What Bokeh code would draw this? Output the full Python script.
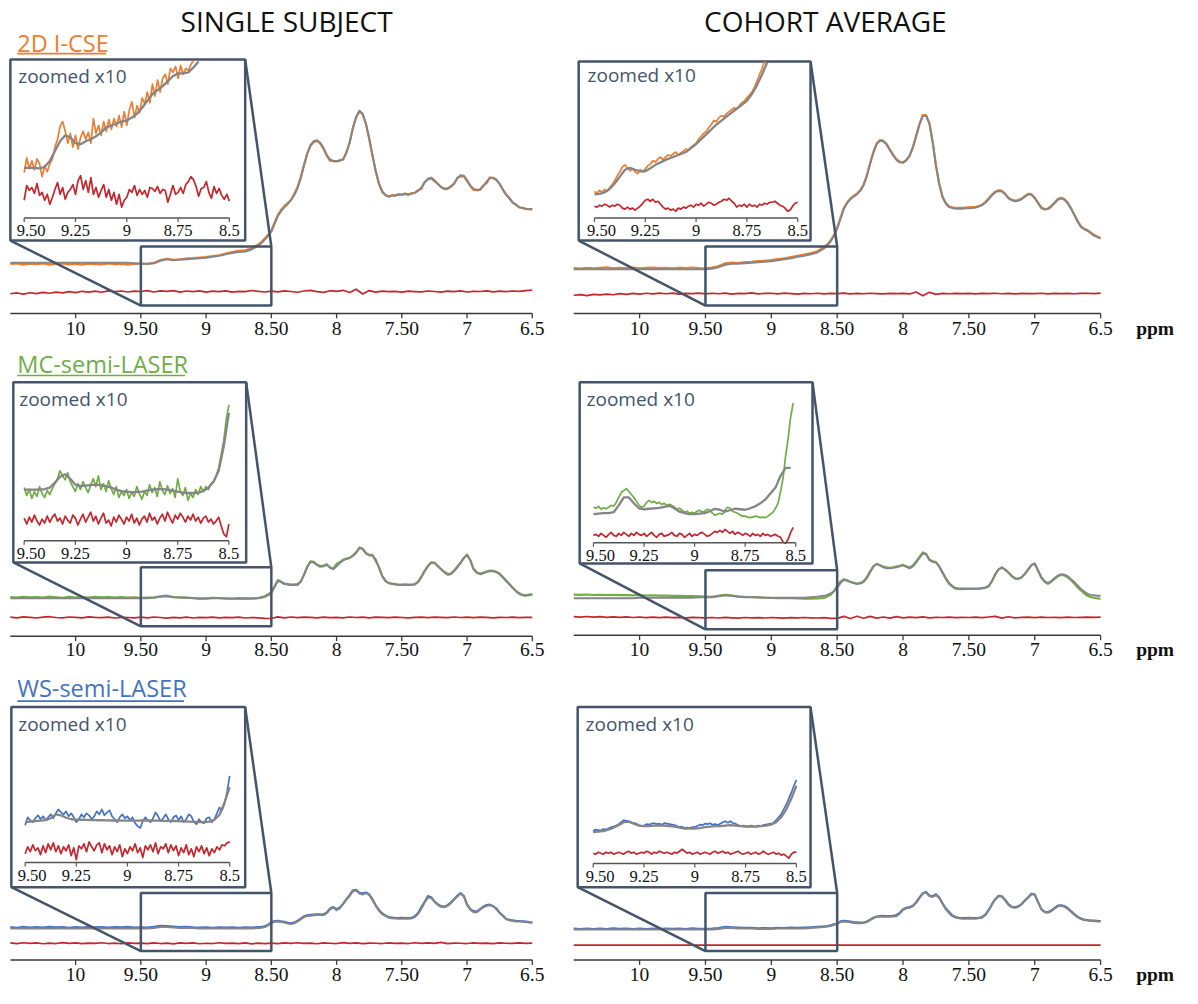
from bokeh.plotting import figure
from bokeh.models import Range1d
from bokeh.embed import file_html
from bokeh.resources import INLINE
from bokeh.core.properties import value

# ============================ DATA ============================
# main spectra: 0.05 ppm steps from 10.5 down to 8.65, then 0.025 ppm steps from 8.6 to 6.5
MAIN_START, MAIN_END = 10.5, 6.5
MAIN_COARSE_STEP, MAIN_SPLIT, MAIN_FINE_STEP = 0.05, 8.6, 0.025
RESID_STEP = 0.05
ZOOM_START, ZOOM_STEP, ZOOM_FIT_STEP = 9.5, 0.0125, 0.025
ZOOM_WINDOW = (9.5, 8.5)

MAIN_TICKS = [10.0, 9.5, 9.0, 8.5, 8.0, 7.5, 7.0, 6.5]
MAIN_TICK_LABELS = ["10", "9.50", "9", "8.50", "8", "7.50", "7", "6.5"]
ZOOM_TICKS = [9.5, 9.25, 9.0, 8.75, 8.5]
ZOOM_TICK_LABELS = ["9.50", "9.25", "9", "8.75", "8.5"]

COLUMN_TITLES = ["SINGLE SUBJECT", "COHORT AVERAGE"]
METHODS = ["2D I-CSE", "MC-semi-LASER", "WS-semi-LASER"]
ZOOM_TEXT = "zoomed x10"
UNIT_TEXT = "ppm"

# ---- Panel A : 2D I-CSE, single subject (a.u.) ----
A_MAIN_SIGNAL = [
    50.2, 50.8, 49.6, 50.5, 49.9, 50.7, 49.4, 50.3, 50.9, 49.8,
    50.4, 49.5, 50.6, 50.1, 49.7, 50.8, 49.9, 50.3, 49.6, 50.2,
    50.8, 50.2, 51.4, 54.3, 55.6, 54.6, 55.1, 55.9, 56.2, 56.9,
    57.4, 58.3, 59.2, 60.9, 62.4, 63.6, 64.1, 66.2,
    70.1, 72.8, 76.3, 79.9, 84.5, 92.6, 100.2, 105.4, 109.1, 112.3,
    115.3, 121.4, 128.2, 138.5, 150.9, 162.6, 170.4, 174.2, 175.3, 172.6,
    167.2, 160.1, 155.1, 154.6, 154.2, 155.9, 156.1, 163.8, 173.2, 188.9,
    199.2, 205.1, 202.4, 192.3, 177.2, 160.3, 144.1, 131.5, 123.2, 120.6,
    118.4, 120.3, 119.5, 121.4, 120.8, 121.9, 120.3, 122.4, 122.6, 125.3,
    126.4, 133.8, 136.1, 137.2, 134.3, 132.1, 128.6, 126.2, 126.5, 129.4,
    131.4, 137.8, 139.2, 139.3, 134.5, 129.4, 125.3, 125.8, 125.6, 130.2,
    132.4, 138.3, 137.3, 135.4, 131.6, 125.3, 120.5, 117.2, 112.4, 110.8,
    107.6, 107.4, 106.1, 105.8, 105.4]
A_MAIN_FIT = [
    51.5, 51.5, 51.5, 51.5, 51.5, 51.5, 51.5, 51.5, 51.5, 51.5,
    51.5, 51.5, 51.5, 51.5, 51.5, 51.5, 51.5, 51.5, 51.5, 51.0,
    50.5, 50.5, 51.0, 53.5, 55.0, 54.0, 54.5, 55.0, 55.5, 56.0,
    56.5, 57.5, 58.5, 60.0, 61.5, 62.5, 63.0, 65.0,
    69, 71.5, 75, 78.5, 83, 91, 99, 104, 108, 111,
    115, 120, 127, 137, 150, 162, 171, 175, 176, 173.5,
    168, 161, 156.5, 155, 155, 155, 157, 163, 174, 188,
    200, 206, 203, 193, 178, 161, 145, 132, 124, 120,
    119, 119.5, 120, 120.5, 120.5, 121, 121, 121.5, 122.5, 124.5,
    128, 133, 137, 138, 135.5, 131.5, 128.5, 127, 127, 128.5,
    132, 137, 140.5, 140, 135.5, 130, 126.5, 125, 126, 129.5,
    134, 137.5, 138, 136, 131.5, 126, 121, 116.5, 113, 110,
    108, 107, 106.5, 106, 106]
A_MAIN_RESID = [
    -2.0, -1.2, -2.4, -1.0, -1.8, -0.6, -1.5, -0.4, -1.1, 0.2,
    -0.8, 0.5, -0.3, 0.6, -0.5, 0.9, 0.1, 0.8, -0.2, 0.7,
    0.3, 1.1, -0.2, 0.9, 0.4, 1.2, -0.3, 0.8, 0.2, 1.0,
    -0.4, 0.6, 0.1, 0.9, -0.3, 0.5, 0.2, 1.3, 0.4, -0.2,
    0.6, -0.1, 1.0, 0.3, -0.5, 0.8, 1.4, 0.2, -0.6, 1.1,
    0.4, 1.5, -0.8, 2.6, -2.2, 1.2, -0.4, 0.7, 0.1, 0.5,
    -0.3, 0.6, 0.2, -0.1, 0.8, 0.3, -0.4, 0.7, 0.1, 0.9,
    -0.2, 0.5, 0.3, 1.0, -0.1, 0.6, 0.2, 0.8, 0.4, 1.2,
    1.8]
A_ZOOM_SIGNAL = [
    46, 61, 50, 58, 49, 60, 55, 42, 53, 47,
    55, 60, 72, 80, 93, 98, 88, 76, 86, 72,
    84, 70, 82, 88, 80, 87, 76, 101, 86, 94,
    84, 98, 88, 100, 90, 101, 93, 104, 92, 108,
    94, 110, 118, 102, 114, 107, 122, 116, 128, 117,
    136, 124, 140, 128, 142, 146, 136, 152, 148, 154,
    142, 155, 146, 152, 150, 156, 160]
A_ZOOM_FIT = [
    51, 51, 51, 50.5, 52, 58, 68, 78, 84, 82,
    76, 75, 78, 80, 83, 87, 92, 94, 96, 98,
    99, 102, 106, 112, 119, 126, 130, 134, 139, 144,
    147, 147, 148, 153, 159]
A_ZOOM_RESID = [
    -10, 5, 0, 3, -3, 7, -5, -2, -10, -4,
    -14, -7, 1, 8, -4, 3, -9, -2, 1, 6,
    -4, 10, 15, 1, 10, -2, 13, -4, 3, -7,
    0, 6, -7, 1, -10, -2, -14, -4, -17, -10,
    -7, 1, -2, 5, -5, 1, -4, 0, -7, 3,
    2, -1, 4, -3, 1, 0, -12, -4, 5, -4,
    -2, 3, -3, 6, 9, 14, 11, 4, -6, 2,
    3, 9, -2, -8, 4, -3, 2, -5, -9, -4,
    -11]

# ---- Panel B : 2D I-CSE, cohort average ----
B_MAIN_SIGNAL = [
    46.2, 45.7, 46.5, 45.9, 46.3, 46.8, 45.8, 46.4, 46.1, 46.6,
    45.9, 46.3, 46.7, 46.0, 46.4, 45.8, 46.5, 46.2, 46.6, 46.0,
    45.9, 46.6, 48.3, 50.9, 51.6, 51.2, 52.1, 52.4, 53.3, 53.6,
    54.2, 55.3, 56.1, 57.4, 58.6, 59.9, 61.3, 63.2,
    67.4, 70.2, 74.1, 79.6, 87.2, 97.1, 107.1, 112.6, 116.8, 119.4,
    121.9, 125.3, 130.8, 140.2, 152.6, 164.1, 172.9, 176.2, 175.6, 172.3,
    166.5, 161.4, 156.8, 154.1, 153.6, 156.2, 160.4, 169.3, 180.9, 192.6,
    201.6, 201.5, 193.4, 174.6, 150.7, 131.8, 118.8, 112.3, 108.6, 107.8,
    107.2, 107.3, 107.4, 107.6, 107.8, 108.0, 108.1, 109.2, 110.6, 113.2,
    116.9, 120.8, 123.8, 125.3, 124.6, 121.8, 117.7, 115.6, 114.8, 115.2,
    116.7, 119.3, 121.6, 121.2, 117.6, 112.7, 107.8, 106.2, 106.6, 109.3,
    112.8, 116.2, 117.6, 116.2, 112.8, 107.2, 100.6, 94.1, 88.8, 86.2,
    84.7, 82.3, 79.8, 78.2, 76.8]
B_MAIN_FIT = [
    45.0, 45.0, 45.0, 45.0, 45.0, 45.0, 45.0, 45.0, 45.0, 45.0,
    45.0, 45.0, 45.0, 45.0, 45.0, 45.0, 45.0, 45.0, 45.0, 45.0,
    45.0, 45.5, 47.0, 49.5, 50.5, 50.5, 51.0, 51.5, 52.0, 52.5,
    53.0, 54.0, 55.0, 56.0, 57.5, 58.5, 60.0, 62.0,
    66, 69, 73, 78.5, 86, 96, 106, 112, 116, 118.5,
    121, 124.5, 130, 139.5, 152, 163.5, 172, 175.5, 175, 171.5,
    166, 160.5, 156, 153.5, 153, 155.5, 160, 168.5, 180, 192,
    200.5, 201, 193, 174, 150, 131, 118, 111.5, 108, 107,
    106.5, 106.5, 106.5, 106.8, 107, 107.2, 107.5, 108.5, 110, 112.5,
    116, 120, 123, 124.5, 124, 121, 117, 115, 114, 114.5,
    116, 118.5, 121, 120.5, 117, 112, 107, 105.5, 106, 108.5,
    112, 115.5, 117, 115.5, 112, 106.5, 100, 93.5, 88, 85.5,
    84, 81.5, 79, 77.5, 76]
B_MAIN_RESID = [
    -1.5, -0.8, -1.9, -0.6, -1.2, -0.3, -1.0, 0.1, -0.7, 0.3,
    -0.4, 0.5, -0.2, 0.6, 0.0, 0.7, -0.3, 0.4, 0.1, 0.6,
    -0.2, 0.5, 0.0, 0.7, -0.3, 0.4, 0.1, 0.8, -0.2, 0.3,
    0.5, -0.1, 0.6, 0.2, -0.3, 0.4, 0.0, 0.5, -0.2, 0.3,
    0.1, 0.6, -0.2, 0.4, 0.0, 0.5, 0.2, -0.1, 0.4, 0.1,
    0.3, -0.2, 1.8, -2.0, 1.5, -0.6, 0.3, 0.0, 0.4, 0.1,
    0.3, -0.1, 0.4, 0.2, 0.5, 0.0, 0.3, -0.2, 0.4, 0.1,
    0.2, 0.5, -0.1, 0.3, 0.1, 0.4, 0.0, 0.3, 0.5, 0.2,
    0.6]
B_ZOOM_SIGNAL = [
    27, 25, 28, 26, 29, 27, 31, 34, 38, 43,
    47, 52, 54, 51, 48, 50, 47, 45, 49, 47,
    50, 53, 55, 58, 57, 60, 62, 59, 62, 64,
    63, 65, 67, 64, 66, 68, 70, 69, 72, 74,
    76, 80, 83, 86, 88, 92, 95, 99, 98, 102,
    104, 103, 106, 108, 110, 112, 111, 114, 117, 119,
    122, 125, 128, 133, 139, 146, 152, 159]
B_ZOOM_FIT = [
    24, 24.5, 26, 29.5, 35, 42, 49, 51, 49, 47.5,
    47.5, 50.5, 54, 56.5, 59, 61, 63, 65, 67, 71,
    75, 80, 85, 90, 95, 99, 103, 107, 111, 115,
    119, 126, 135, 146, 158]
B_ZOOM_RESID = [
    0, -1, 1, 0, 2, 1, -1, 1, 0, 2,
    1, -2, -3, -1, -3, -2, -4, -2, 0, 3,
    6, 7, 5, 7, 4, 5, 2, -1, -3, -2,
    -4, -3, -5, -2, -3, -1, -2, 0, 1, -1,
    2, 1, 3, 0, 2, 4, 3, 1, 2, 4,
    5, 7, 6, 8, 5, 3, -1, 1, 0, 2,
    -1, 2, 0, 1, -1, 2, 1, 3, 2, 4,
    4, 5, 3, 1, 0, -2, -5, -4, 0, 3,
    4]

# ---- Panel C : MC-semi-LASER, single subject ----
C_MAIN_SIGNAL = [
    39.8, 39.2, 40.1, 39.5, 39.9, 39.3, 40.2, 39.6, 39.1, 40.0,
    39.4, 39.8, 39.2, 40.1, 39.5, 39.9, 39.3, 39.7, 39.2, 39.6,
    39.0, 39.4, 39.3, 40.6, 41.2, 39.8, 39.6, 39.2, 38.9, 38.4,
    38.6, 39.1, 38.8, 38.5, 38.3, 38.7, 38.4, 38.6,
    38.9, 39.8, 40.7, 42.6, 45.2, 50.8, 57.1, 55.4, 53.6, 53.1,
    52.4, 52.8, 52.9, 55.6, 62.6, 70.8, 76.2, 75.6, 72.5, 71.3,
    71.8, 73.1, 69.4, 68.8, 73.6, 75.2, 77.8, 78.9, 79.4, 82.3,
    85.3, 90.2, 89.1, 84.6, 82.6, 82.8, 76.4, 70.2, 61.2, 56.4,
    53.8, 53.6, 52.9, 52.6, 52.4, 52.7, 52.6, 52.4, 53.1, 55.6,
    60.8, 66.4, 71.6, 75.2, 74.8, 71.6, 68.4, 65.5, 63.5, 63.6,
    66.7, 70.6, 74.6, 79.8, 82.8, 77.4, 68.5, 65.1, 63.6, 64.5,
    65.8, 66.7, 66.4, 65.4, 63.5, 60.2, 56.6, 53.1, 49.4, 46.2,
    43.8, 42.1, 41.7, 42.3, 42.9]
C_MAIN_FIT = [
    38.5, 38.5, 38.5, 38.5, 38.5, 38.5, 38.5, 38.5, 38.5, 38.5,
    38.5, 38.5, 38.5, 38.5, 38.5, 38.5, 38.5, 38.5, 38.5, 38.5,
    38.5, 38.5, 39.0, 40.0, 40.5, 39.5, 39.0, 39.0, 38.5, 38.0,
    38.0, 38.5, 38.5, 38.0, 38.0, 38.0, 38.0, 38.0,
    38.5, 39, 40, 41.5, 44, 50, 56, 55, 53, 52.5,
    52, 52, 52, 55, 62, 70, 75.5, 75, 72.5, 70.5,
    71, 72.5, 70, 68, 71, 74.5, 77, 78.5, 79.5, 81.5,
    84.5, 89.5, 88.5, 84, 82, 82, 78, 69.5, 61, 56,
    54, 53, 52.5, 52, 52, 52, 52, 52, 52.5, 55,
    60, 66, 71, 74.5, 74.5, 71, 68, 65, 62.5, 63,
    66, 70, 74.5, 79, 83, 77, 68, 64.5, 63, 64,
    65.5, 66, 66, 65, 63, 59.5, 56, 52.5, 49, 45.5,
    43, 41.5, 41, 41.5, 42]
C_MAIN_RESID = [
    0.4, -0.3, 0.6, 0.1, -0.5, 0.3, 0.8, 0.0, -0.4, 0.5,
    0.2, -0.3, 0.6, 0.1, -0.2, 0.4, -0.5, 0.2, 0.0, -0.3,
    0.3, -0.4, 0.5, 0.0, -0.6, 0.2, -0.3, 0.4, -0.5, 0.1,
    -0.2, 0.3, -0.4, 0.2, -0.1, 0.4, -0.5, 0.0, -0.3, -0.9,
    -1.0, 0.6, -0.4, 0.5, -0.2, 0.3, 0.1, -0.3, 0.4, -0.1,
    0.2, -0.4, 0.5, 0.0, 0.3, -0.3, 0.4, 0.1, -0.2, 0.3,
    0.0, -0.3, 0.2, 0.4, -0.1, 0.3, 0.1, -0.2, 0.5, 0.0,
    0.3, -0.2, 0.4, 0.1, -0.3, 0.2, 0.0, 0.3, -0.1, 0.2,
    0.1]
C_ZOOM_SIGNAL = [
    54, 46, 52, 43, 50, 45, 55, 48, 44, 51,
    47, 53, 58, 63, 71, 66, 62, 69, 60, 55,
    50, 58, 52, 60, 54, 49, 57, 63, 55, 66,
    52, 58, 50, 61, 53, 47, 55, 44, 50, 46,
    52, 43, 49, 45, 55, 48, 42, 50, 46, 57,
    49, 54, 45, 60, 51, 47, 56, 48, 53, 44,
    63, 50, 46, 54, 41, 48, 44, 52, 47, 55,
    50, 55, 52, 58, 60, 66, 74, 88, 102, 124,
    138]
C_ZOOM_FIT = [
    52, 52, 52, 52, 52.5, 54, 59, 65, 67.5, 63,
    57, 55.5, 56, 56.5, 57, 56.5, 55.5, 54, 52, 50.5,
    50, 49.5, 49.5, 50, 51, 52, 52.5, 52.5, 52, 51,
    50, 49, 48.5, 48.5, 49, 50.5, 54, 60, 71, 96,
    130]
C_ZOOM_RESID = [
    2, -4, 3, -2, 5, -1, -5, 1, -3, 4,
    -2, 3, 6, -1, 2, -4, 4, 0, -3, 5,
    2, -5, 1, 6, -2, 3, 8, -1, 4, -4,
    2, 7, -3, 0, -6, 3, -2, 5, 1, -4,
    3, -1, 6, -3, 2, -5, 1, 4, -2, 7,
    0, 3, -4, 2, 6, -1, 8, 2, -3, 5,
    1, 7, 3, -2, 4, 0, 6, -1, 3, -3,
    2, 4, -2, 1, -4, -1, 3, -6, -14, -17,
    -4]

# ---- Panel D : MC-semi-LASER, cohort average ----
D_MAIN_SIGNAL = [
    41.3, 41.0, 41.4, 40.9, 41.2, 40.8, 41.1, 40.7, 40.9, 40.5,
    40.8, 40.4, 40.6, 40.2, 40.4, 40.0, 40.1, 39.8, 39.9, 39.6,
    39.4, 39.1, 40.2, 41.0, 40.2, 39.5, 39.0, 38.8, 38.5, 38.1,
    37.8, 37.6, 37.9, 37.7, 37.4, 37.2, 37.1, 37.3,
    37.8, 39.2, 41.0, 44.6, 50.5, 54.6, 57.0, 55.9, 54.4, 53.3,
    52.6, 53.1, 54.8, 59.0, 65.0, 70.2, 72.4, 71.1, 69.8, 68.9,
    68.6, 69.0, 69.8, 70.6, 71.5, 70.2, 68.8, 71.0, 75.0, 79.6,
    84.2, 82.8, 77.0, 75.1, 74.3, 69.6, 63.2, 57.3, 52.0, 49.2,
    47.2, 46.9, 46.8, 46.9, 46.9, 47.0, 47.0, 47.2, 47.6, 48.3,
    49.6, 54.8, 61.8, 66.7, 68.6, 66.4, 63.4, 60.0, 57.5, 57.2,
    58.6, 62.2, 66.5, 71.2, 72.6, 65.5, 58.4, 54.3, 52.2, 54.3,
    57.1, 59.8, 61.2, 60.6, 58.8, 55.9, 52.6, 48.8, 45.4, 42.6,
    40.0, 38.9, 38.0, 37.4, 37.0]
D_MAIN_FIT = [
    37.5, 37.5, 37.5, 37.5, 37.5, 37.5, 37.5, 37.5, 37.5, 37.5,
    38.0, 38.0, 38.0, 38.0, 38.0, 38.0, 38.0, 38.0, 38.0, 38.5,
    38.5, 38.5, 39.5, 40.5, 40.0, 39.0, 38.5, 38.5, 38.5, 38.0,
    38.0, 38.0, 38.0, 38.0, 38.0, 38.0, 38.5, 39.0,
    40, 41, 42.5, 44.5, 48, 53, 56, 55.5, 54, 53,
    52, 52.5, 54, 58, 64, 69.5, 72.5, 71, 69, 68,
    68, 68.5, 69, 70, 71, 69.5, 68, 70, 74, 78.5,
    83, 82, 76.5, 74.5, 74, 70, 64, 58, 53, 50,
    48, 47.5, 47.5, 47.5, 47.5, 47.5, 47.5, 47.5, 48, 48.5,
    50, 55, 62, 67, 69, 67, 64, 60.5, 58, 57.5,
    59, 62.5, 67, 71.5, 73, 66, 59, 55, 53, 55,
    58, 60.5, 62, 61.5, 60, 57, 54, 50.5, 47, 44.5,
    42, 41, 40.5, 40.2, 40]
D_MAIN_RESID = [
    0.8, 0.3, 1.0, 0.4, 0.9, 0.2, 0.7, 0.1, 0.6, 0.0,
    0.5, -0.1, 0.4, -0.2, 0.3, -0.1, 0.2, -0.3, 0.1, -0.2,
    -0.4, 0.0, -0.5, 0.1, -0.3, -0.6, 0.0, -0.4, -0.1, -0.5,
    0.0, -0.3, -0.6, -0.1, -0.4, 0.0, -0.3, -0.5, -0.2, -0.8,
    -0.9, 1.2, -1.0, 1.3, -0.8, 1.1, -0.6, 0.5, -0.7, 0.9,
    -0.3, 0.4, -0.2, 0.6, -0.4, 0.2, 0.0, 0.3, -0.1, 0.2,
    0.0, 0.3, -0.2, 0.5, 1.2, -0.6, 0.8, -0.3, 0.2, 0.4,
    -0.2, 0.3, 0.0, 0.2, -0.1, 0.3, 0.0, 0.2, 0.4, 0.1,
    0.3]
D_ZOOM_SIGNAL = [
    36, 35, 37, 34, 35.5, 34.5, 36, 38, 37, 41,
    46, 51, 53, 55, 52, 49, 46, 42, 38, 36,
    37, 41, 43, 41, 42, 40, 41, 39, 40, 38,
    39, 38, 36, 34, 35, 33, 31, 32, 30, 31,
    30, 32, 33, 31, 32, 34, 33, 30, 28, 29,
    30, 29, 33, 36, 35, 32, 31, 30, 28, 27,
    27, 26, 25.5, 26, 27, 26.5, 25.5, 26, 25.5, 27,
    29, 31, 35, 40, 52, 66, 88, 106, 128, 142]
D_ZOOM_FIT = [
    29, 29.5, 30, 30, 31, 38, 46, 46, 40, 35,
    34, 34.5, 35, 35.5, 36.5, 37.5, 35, 31.5, 30, 29,
    29, 29.5, 30, 32, 34.5, 33.5, 31.5, 33, 34.5, 34,
    33.5, 35, 37, 40, 44, 50, 56, 68, 76, 76]
D_ZOOM_RESID = [
    0, 1, -1, 2, 0, -2, 1, 3, 0, -1,
    2, 0, 3, 1, -1, 2, 0, 3, 1, 0,
    2, -1, 1, 3, 0, -2, 1, 2, -1, 0,
    1, 3, 0, -1, 2, 1, -2, 0, 2, -1,
    1, 0, 2, 3, 1, -1, 0, 2, 4, 3,
    5, 3, 6, 4, 2, 4, 1, 3, 2, 0,
    2, 1, -1, 2, 0, 1, -1, 2, 0, 1,
    -1, 0, 1, -1, -2, -7, -8, -4, 3, 8]

# ---- Panel E : WS-semi-LASER, single subject ----
E_MAIN_SIGNAL = [
    33.4, 32.8, 33.6, 33.0, 33.5, 32.9, 33.7, 33.1, 33.4, 32.8,
    33.5, 33.0, 33.6, 33.2, 33.4, 32.9, 33.5, 33.1, 33.6, 33.0,
    33.3, 32.9, 33.6, 34.7, 34.5, 33.9, 33.4, 33.7, 33.2, 32.9,
    33.3, 32.8, 33.2, 32.9, 33.1, 32.7, 33.2, 32.9,
    33.4, 33.6, 34.3, 35.8, 38.6, 39.6, 39.9, 39.2, 38.7, 37.9,
    37.2, 38.0, 39.8, 42.0, 44.4, 45.3, 45.8, 46.2, 46.4, 46.3,
    46.2, 48.4, 52.3, 53.8, 51.6, 53.4, 56.8, 61.8, 65.9, 70.9,
    71.2, 68.3, 67.8, 68.6, 66.6, 61.8, 55.6, 50.9, 47.3, 45.2,
    43.5, 43.2, 42.6, 42.7, 42.8, 42.6, 42.7, 42.9, 44.6, 47.8,
    53.8, 59.2, 64.9, 63.7, 59.6, 56.8, 54.8, 54.2, 55.7, 58.4,
    61.8, 65.3, 67.9, 65.2, 56.6, 51.6, 49.7, 49.2, 51.8, 54.3,
    55.8, 56.2, 54.6, 52.3, 47.8, 45.1, 41.6, 40.9, 40.2, 39.8,
    39.6, 39.4, 39.1, 38.6, 38.2]
E_MAIN_FIT = [
    32.0, 32.0, 32.0, 32.0, 32.0, 32.0, 32.0, 32.0, 32.0, 32.0,
    32.0, 32.0, 32.0, 32.0, 32.0, 32.0, 32.0, 32.0, 32.0, 32.0,
    32.0, 32.0, 32.5, 33.5, 33.5, 33.0, 32.5, 32.5, 32.5, 32.0,
    32.0, 32.0, 32.0, 32.0, 32.0, 32.0, 32.0, 32.0,
    32.5, 32.8, 33.5, 35, 37.5, 38.8, 39, 38.6, 38, 37,
    36.5, 37.2, 39, 41.2, 43.5, 44.6, 45, 45.4, 45.6, 45.6,
    45.5, 47.5, 51.5, 53, 50.5, 52.5, 57, 61, 65, 70,
    70.5, 67.5, 66.5, 68, 66, 61, 55, 50, 46.5, 44.5,
    43, 42.5, 42.2, 42, 42, 42, 42, 42.2, 43.5, 47,
    52, 58.5, 63.5, 63, 59, 56, 54, 53.5, 55, 57.5,
    61, 64.5, 67.5, 64.5, 56, 51, 48.5, 48.5, 51, 53.5,
    55, 55.5, 54.5, 51.5, 48, 44.5, 41.5, 40.2, 39.5, 39.2,
    39, 38.8, 38.5, 38, 37.7]
E_MAIN_RESID = [
    0.3, -0.4, 0.5, -0.2, 0.4, -0.5, 0.2, -0.3, 0.6, -0.1,
    0.3, -0.4, 0.2, -0.2, 0.5, -0.3, 0.1, -0.5, 0.3, -0.1,
    0.2, -0.4, 0.4, -0.3, 0.1, -0.6, 0.3, -0.2, 0.4, -0.5,
    0.0, -0.3, 0.5, -0.2, 0.1, -0.4, 0.3, -0.6, 0.2, -0.3,
    0.1, -0.4, 0.3, -0.2, 0.5, -0.1, 0.2, -0.5, 0.4, 0.0,
    -0.3, 0.6, -0.2, 0.3, -0.4, 0.2, 0.0, -0.3, 0.4, -0.1,
    0.2, -0.3, 0.5, -0.1, 0.3, -0.2, 0.9, -0.4, 0.2, 0.0,
    -0.3, 0.4, -0.1, 0.2, -0.4, 0.3, 0.0, -0.2, 0.4, -0.1,
    0.2]
E_ZOOM_SIGNAL = [
    38, 46, 43, 41, 45, 48, 44, 47, 43, 46,
    49, 45, 50, 54, 51, 49, 52, 47, 50, 46,
    41, 44, 49, 46, 50, 48, 44, 47, 52, 49,
    54, 48, 51, 53, 47, 44, 41, 46, 49, 45,
    47, 43, 46, 40, 37, 35, 42, 46, 43, 41,
    45, 51, 47, 42, 45, 49, 44, 41, 46, 48,
    43, 47, 41, 44, 49, 47, 41, 39, 44, 41,
    40, 45, 46, 41, 44, 50, 56, 53, 60, 72,
    88]
E_ZOOM_FIT = [
    41, 41.5, 42, 42.5, 43, 45, 49, 48, 45.5, 44,
    43.5, 43.5, 43.3, 43.2, 43, 43, 42.8, 42.7, 42.7, 42.6,
    42.5, 42.5, 42.6, 42.7, 42.7, 42.6, 42.5, 42.4, 42.3, 42.2,
    42, 41.8, 41.6, 41.4, 41.2, 41, 41.5, 43.5, 48.5, 61,
    76.7]
E_ZOOM_RESID = [
    -4, 3, -2, 5, -1, 2, -5, 4, -3, 6,
    0, 7, -2, 4, -4, 3, -1, 5, -6, 2,
    -10, 4, 1, 6, -2, 8, 3, -1, 5, 7,
    -3, 6, 0, 4, -5, 3, -2, 5, -7, 1,
    -4, 3, -1, 6, -3, 2, -8, 4, 0, 5,
    -2, 7, -4, 3, 1, 6, -3, 5, -1, 4,
    -6, 2, -3, 5, -5, 1, -7, 3, -2, 4,
    -4, 2, -6, 1, -3, 3, 0, 5, 4, 7,
    8]

# ---- Panel F : WS-semi-LASER, cohort average ----
F_MAIN_SIGNAL = [
    31.8, 31.3, 32.0, 31.5, 31.9, 31.4, 32.1, 31.6, 31.9, 31.3,
    32.0, 31.5, 31.8, 31.4, 32.0, 31.6, 31.9, 31.5, 32.1, 31.7,
    31.6, 31.9, 32.4, 33.6, 33.2, 32.9, 32.6, 32.8, 32.2, 32.5,
    32.3, 32.8, 32.5, 33.0, 32.6, 32.9, 33.2, 33.6,
    34.1, 34.6, 35.3, 36.2, 36.8, 39.2, 39.8, 39.5, 39.0, 38.3,
    38.2, 37.9, 38.1, 39.2, 40.9, 43.0, 44.2, 44.6, 44.8, 44.5,
    44.6, 44.8, 45.8, 47.9, 51.6, 53.1, 53.7, 55.2, 58.8, 63.6,
    67.8, 69.1, 65.6, 64.8, 66.8, 63.5, 57.6, 52.3, 48.7, 45.2,
    43.6, 42.9, 42.7, 42.6, 42.8, 42.6, 42.6, 42.9, 43.7, 46.1,
    50.8, 56.7, 61.8, 65.2, 64.7, 61.2, 56.8, 54.1, 53.6, 54.7,
    56.8, 60.6, 63.7, 67.2, 66.6, 59.1, 51.7, 49.0, 48.6, 50.2,
    52.8, 55.2, 55.6, 54.7, 52.8, 49.6, 46.6, 44.1, 42.2, 41.1,
    40.6, 40.3, 40.1, 39.8, 39.6]
F_MAIN_FIT = [
    31.0, 31.0, 31.0, 31.0, 31.0, 31.0, 31.0, 31.0, 31.0, 31.0,
    31.0, 31.0, 31.0, 31.0, 31.0, 31.0, 31.0, 31.0, 31.0, 31.0,
    31.0, 31.0, 31.5, 32.5, 32.5, 32.0, 32.0, 32.0, 31.5, 31.5,
    31.5, 32.0, 32.0, 32.0, 32.0, 32.0, 32.5, 33.0,
    33.5, 34, 34.5, 35.5, 37, 38.5, 39, 38.8, 38.2, 37.6,
    37.3, 37.2, 37.5, 38.5, 40.5, 42.5, 43.8, 44, 44, 44,
    44, 44.2, 44.5, 47, 51, 52.5, 53, 54.5, 58, 63,
    67.5, 68.5, 65, 64, 66, 63, 57, 51.5, 47.5, 44.5,
    43, 42.3, 42, 42, 42, 42, 42, 42.3, 43, 45.5,
    50, 56, 61.5, 64.5, 64.5, 60.5, 56, 53.5, 53, 54,
    56.5, 60, 63.5, 66.5, 66.5, 58.5, 51.5, 48.5, 48, 49.5,
    52, 54.5, 55, 54, 52, 49, 46, 43.5, 41.5, 40.5,
    40, 39.7, 39.5, 39.2, 39]
F_MAIN_RESID = [
    0.0, 0.0, 0.0, 0.0, 0.0, 0.0, 0.0, 0.0, 0.0, 0.0,
    0.0, 0.0, 0.0, 0.0, 0.0, 0.0, 0.0, 0.0, 0.0, 0.0,
    0.0, 0.0, 0.0, 0.0, 0.0, 0.0, 0.0, 0.0, 0.0, 0.0,
    0.0, 0.0, 0.0, 0.0, 0.0, 0.0, 0.0, 0.0, 0.0, 0.0,
    0.0, 0.0, 0.0, 0.0, 0.0, 0.0, 0.0, 0.0, 0.0, 0.0,
    0.0, 0.0, 0.0, 0.0, 0.0, 0.0, 0.0, 0.0, 0.0, 0.0,
    0.0, 0.0, 0.0, 0.0, 0.0, 0.0, 0.0, 0.0, 0.0, 0.0,
    0.0, 0.0, 0.0, 0.0, 0.0, 0.0, 0.0, 0.0, 0.0, 0.0,
    0.0]
F_ZOOM_SIGNAL = [
    33, 34.5, 34, 33.5, 35, 34.5, 35.5, 37, 37.5, 38.5,
    40, 42, 44, 43.5, 43, 42, 41, 40.5, 39, 38,
    38.5, 40, 39.5, 40.5, 41, 40, 40.5, 39.5, 41, 40.5,
    40, 39.5, 39, 38, 37, 37.5, 36, 36.5, 36, 37,
    37, 38, 39.5, 39, 40.5, 40, 41, 39.5, 40, 39,
    40.5, 42, 43, 41.5, 43, 41, 40.5, 39, 38, 38.5,
    38, 37.5, 38.5, 38, 37.5, 38.5, 38, 39, 39.5, 40,
    40.5, 41.5, 44, 47, 50, 55, 60, 66, 72, 79,
    85]
F_ZOOM_FIT = [
    32, 32.5, 33, 34.5, 36.5, 39, 42, 42.5, 40.5, 38.5,
    38, 38, 38.5, 38.5, 38.5, 38, 37.5, 36.5, 35.5, 35.5,
    35.5, 36, 37, 37.5, 38, 38, 38.5, 39, 38.5, 38,
    37.5, 37.5, 37.5, 38, 38.5, 39.5, 42, 47, 55, 66,
    79]
F_ZOOM_RESID = [
    0, -1, 1, 0, -1, 1, 0, 1, -1, 0,
    1, 0, -1, 1, 2, 0, 1, -1, 0, 1,
    0, 2, 1, -1, 1, 0, 2, 1, 0, 1,
    0, -1, 1, 0, 2, 4, 2, 0, 1, -1,
    0, 1, -1, 0, 1, 0, -1, 1, 2, 0,
    1, 2, 0, 1, -1, 0, 1, 2, 0, -1,
    0, 1, -1, 0, 1, -1, 0, 2, 0, -1,
    0, 1, -1, 0, -2, -1, -3, -5, -1, 1,
    1]

# ============================ STYLE / LAYOUT ============================
ORANGE, GREEN, BLUE = "#ED7D31", "#70AD47", "#4472C4"
GREY, RED, BOX, AXIS = "#858585", "#C4262E", "#44546A", "#3a3a3a"
SANS, SERIF = "Open Sans", "Liberation Serif"

W, H = 1182, 988
# layout is given in reference-image pixels (1198 x 1004), mapped onto the canvas
FX0, FX1, FY0, FY1 = 0, 1198, 0, 1004

COL_PX = {"L": (10.0, 539.0), "R": (581.0, 1115.0)}   # pixel of 10.5 ppm / 6.5 ppm
ROW_Y = [dict(label=333, method=43, ul=54, ulx=(17, 107)),
         dict(label=660, method=369, ul=381, ulx=(17, 187)),
         dict(label=990, method=699, ul=712, ulx=(17, 186))]
METHOD_COLORS = [ORANGE, GREEN, BLUE]
ZOOM_LABEL_SHIFT = [7, 0, 0, 0, 0]   # first inset tick label nudged inside its box (px)

PANELS = [
    dict(key="A", col="L", row=0, axisY=318, box=(10, 60, 248, 244), zx=(24, 232), zaxisY=221,
         hl=(250, 310), res_off=22, zres_off=28, ztext=(18, 77),
         data=(A_MAIN_SIGNAL, A_MAIN_FIT, A_MAIN_RESID, A_ZOOM_SIGNAL, A_ZOOM_FIT, A_ZOOM_RESID)),
    dict(key="B", col="R", row=0, axisY=318, box=(586, 62, 821, 244), zx=(602, 808), zaxisY=221,
         hl=(250, 310), res_off=20, zres_off=12, ztext=(595, 76),
         data=(B_MAIN_SIGNAL, B_MAIN_FIT, B_MAIN_RESID, B_ZOOM_SIGNAL, B_ZOOM_FIT, B_ZOOM_RESID)),
    dict(key="C", col="L", row=1, axisY=646, box=(13, 388, 249, 571), zx=(24, 231.5), zaxisY=549,
         hl=(576, 636), res_off=19, zres_off=21, ztext=(19, 405),
         data=(C_MAIN_SIGNAL, C_MAIN_FIT, C_MAIN_RESID, C_ZOOM_SIGNAL, C_ZOOM_FIT, C_ZOOM_RESID)),
    dict(key="D", col="R", row=1, axisY=645, box=(587, 388, 823, 572), zx=(601, 806), zaxisY=551,
         hl=(579, 639), res_off=18, zres_off=7.5, ztext=(594, 405),
         data=(D_MAIN_SIGNAL, D_MAIN_FIT, D_MAIN_RESID, D_ZOOM_SIGNAL, D_ZOOM_FIT, D_ZOOM_RESID)),
    dict(key="E", col="L", row=2, axisY=975, box=(11, 718, 248, 901), zx=(25, 232.3), zaxisY=876,
         hl=(907, 966), res_off=17, zres_off=13, ztext=(18, 735),
         data=(E_MAIN_SIGNAL, E_MAIN_FIT, E_MAIN_RESID, E_ZOOM_SIGNAL, E_ZOOM_FIT, E_ZOOM_RESID)),
    dict(key="F", col="R", row=2, axisY=975, box=(585, 718, 821, 901), zx=(600.7, 806.7), zaxisY=877,
         hl=(907, 966), res_off=15, zres_off=10.5, ztext=(593, 735),
         data=(F_MAIN_SIGNAL, F_MAIN_FIT, F_MAIN_RESID, F_ZOOM_SIGNAL, F_ZOOM_FIT, F_ZOOM_RESID)),
]


def grid(start, step, n):
    return [round(start - step * i, 5) for i in range(n)]


def main_grid(n):
    n_coarse = int(round((MAIN_START - MAIN_SPLIT) / MAIN_COARSE_STEP))
    g = grid(MAIN_START, MAIN_COARSE_STEP, n_coarse) + grid(MAIN_SPLIT, MAIN_FINE_STEP, 200)
    return g[:n]


def xrange_for(v0, X0, v1, X1):
    s = (v1 - v0) / (X1 - X0)
    return Range1d(start=v0 + (FX0 - X0) * s, end=v0 + (FX1 - X0) * s)


def yrange_for(axisY):
    # value v (a.u.) is drawn v reference pixels above the axis line at axisY
    return Range1d(start=axisY - FY1, end=axisY - FY0)


def ppm_px(col, ppm):
    X0, X1 = COL_PX[col]
    return X0 + (MAIN_START - ppm) * (X1 - X0) / (MAIN_START - MAIN_END)


# ============================ FIGURE ============================
p = figure(width=W, height=H, x_range=Range1d(FX0, FX1), y_range=Range1d(FY1, FY0),
           x_axis_location=None, y_axis_location=None, toolbar_location=None,
           output_backend="svg", min_border=0, outline_line_color=None,
           background_fill_color="white", border_fill_color="white")
p.xgrid.visible = False
p.ygrid.visible = False

xr, yr = {}, {}
for c in COL_PX:
    xr["x" + c] = xrange_for(MAIN_START, COL_PX[c][0], MAIN_END, COL_PX[c][1])
for P in PANELS:
    yr["m" + P["key"]] = yrange_for(P["axisY"])
    xr["z" + P["key"]] = xrange_for(ZOOM_WINDOW[0], P["zx"][0], ZOOM_WINDOW[1], P["zx"][1])
    yr["z" + P["key"]] = yrange_for(P["zaxisY"])
p.extra_x_ranges = xr
p.extra_y_ranges = yr

# column titles
p.text(x=[290, 836], y=[21, 21], text=COLUMN_TITLES, text_font=value(SANS),
       text_font_size="28px", text_align="center", text_baseline="middle", text_color="#111111")

for P in PANELS:
    k, col, row = P["key"], P["col"], P["row"]
    color = METHOD_COLORS[row]
    sig, fit, res, zsig, zfit, zres = P["data"]
    XR, YR, ZX, ZY = "x" + col, "m" + k, "z" + k, "z" + k
    common = dict(x_range_name=XR, y_range_name=YR)

    # ---- main spectrum ----
    p.line(main_grid(len(sig)), sig, line_color=color, line_width=2.1, line_join="round", **common)
    p.line(main_grid(len(fit)), fit, line_color=GREY, line_width=2.0, line_join="round", **common)
    p.line(grid(MAIN_START, RESID_STEP, len(res)), [P["res_off"] + r for r in res],
           line_color=RED, line_width=1.7, line_join="round", **common)

    # ---- main axis ----
    p.segment(x0=[MAIN_START], y0=[0], x1=[MAIN_END], y1=[0], line_color=AXIS, line_width=1.5, **common)
    p.segment(x0=MAIN_TICKS, y0=[0] * len(MAIN_TICKS), x1=MAIN_TICKS, y1=[-5] * len(MAIN_TICKS),
              line_color=AXIS, line_width=1.3, **common)
    lab_off = P["axisY"] - ROW_Y[row]["label"]
    p.text(x=MAIN_TICKS, y=[lab_off] * len(MAIN_TICKS), text=MAIN_TICK_LABELS,
           text_font=value(SERIF), text_font_size="19.5px", text_align="center",
           text_baseline="middle", text_color="#111111", **common)
    if col == "R":
        p.text(x=[1151], y=[ROW_Y[row]["label"]], text=[UNIT_TEXT], text_font=value(SERIF),
               text_font_size="19.5px", text_font_style="bold", text_align="left",
               text_baseline="middle", text_color="#111111")
    else:
        p.text(x=[17], y=[ROW_Y[row]["method"]], text=[METHODS[row]], text_font=value(SANS),
               text_font_size="23.5px", text_align="left", text_baseline="middle", text_color=color)
        ux = ROW_Y[row]["ulx"]
        p.segment(x0=[ux[0]], y0=[ROW_Y[row]["ul"]], x1=[ux[1]], y1=[ROW_Y[row]["ul"]],
                  line_color=color, line_width=1.6)

    # ---- highlight box on the main spectrum + connectors ----
    hy0, hy1 = P["hl"]
    p.quad(left=[ZOOM_WINDOW[0]], right=[ZOOM_WINDOW[1]], top=[hy0], bottom=[hy1],
           fill_color=None, line_color=BOX, line_width=2.5, x_range_name=XR)
    bx0, by0, bx1, by1 = P["box"]
    hx0, hx1 = ppm_px(col, ZOOM_WINDOW[0]), ppm_px(col, ZOOM_WINDOW[1])
    p.segment(x0=[bx0, bx1], y0=[by1, by0], x1=[hx0, hx1], y1=[hy1, hy0],
              line_color=BOX, line_width=2.5)

    # ---- inset ----
    p.quad(left=[bx0], right=[bx1], top=[by0], bottom=[by1], fill_color="white",
           line_color=BOX, line_width=2.5)
    p.text(x=[P["ztext"][0]], y=[P["ztext"][1]], text=[ZOOM_TEXT], text_font=value(SANS),
           text_font_size="19px", text_align="left", text_baseline="middle", text_color=BOX)
    zc = dict(x_range_name=ZX, y_range_name=ZY)
    p.line(grid(ZOOM_START, ZOOM_STEP, len(zsig)), zsig, line_color=color, line_width=1.7,
           line_join="round", **zc)
    p.line(grid(ZOOM_START, ZOOM_FIT_STEP, len(zfit)), zfit, line_color=GREY, line_width=2.3,
           line_join="round", **zc)
    p.line(grid(ZOOM_START, ZOOM_STEP, len(zres)), [P["zres_off"] + r for r in zres],
           line_color=RED, line_width=1.7, line_join="round", **zc)
    p.segment(x0=[ZOOM_WINDOW[0]], y0=[0], x1=[ZOOM_WINDOW[1]], y1=[0], line_color="#555555",
              line_width=1.4, **zc)
    p.segment(x0=ZOOM_TICKS, y0=[0] * len(ZOOM_TICKS), x1=ZOOM_TICKS, y1=[-4] * len(ZOOM_TICKS),
              line_color="#555555", line_width=1.2, **zc)
    p.text(x=ZOOM_TICKS, y=[-13] * len(ZOOM_TICKS), text=ZOOM_TICK_LABELS,
           x_offset=ZOOM_LABEL_SHIFT, text_font=value(SERIF),
           text_font_size="16.5px", text_align="center", text_baseline="middle",
           text_color="#111111", **zc)

open("out.html", "w").write(file_html(p, INLINE))
